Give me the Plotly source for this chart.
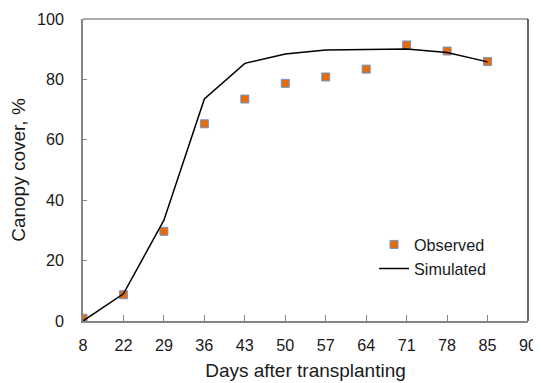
import plotly.graph_objects as go

days = ["8", "22", "29", "36", "43", "50", "57", "64", "71", "78", "85", "90"]
obs_days = ["8", "22", "29", "36", "43", "50", "57", "64", "71", "78", "85"]
observed = [0.9, 8.7, 29.7, 65.3, 73.5, 78.7, 80.8, 83.4, 91.4, 89.4, 85.9]
simulated = [0.0, 9.0, 33.4, 73.5, 85.3, 88.4, 89.7, 90.0, 90.1, 88.9, 85.8]
y_ticks = [0, 20, 40, 60, 80, 100]

FONT = "Liberation Sans, Arial, sans-serif"
fs = 16.2

fig = go.Figure()
fig.add_trace(go.Scatter(
    x=obs_days, y=observed, mode="markers", name="Observed",
    marker=dict(symbol="square", size=8, color="#E46C0A",
                line=dict(color="#7096CF", width=1)),
))
fig.add_trace(go.Scatter(
    x=obs_days, y=simulated, mode="lines", name="Simulated",
    line=dict(color="black", width=1.5),
))

# page body has an 8px margin, so the figure is shrunk and offset by it
fig.update_layout(
    width=533, height=375,
    margin=dict(l=75, r=13, t=11, b=62),
    paper_bgcolor="white", plot_bgcolor="white",
    font=dict(family=FONT, size=fs, color="#1a1a1a"),
    showlegend=True,
    legend=dict(x=0.654, y=0.31, xanchor="left", yanchor="top",
                bgcolor="rgba(0,0,0,0)", font=dict(size=fs),
                traceorder="normal"),
    xaxis=dict(
        type="category", categoryorder="array", categoryarray=days,
        range=[0, len(days) - 1], automargin=False,
        showline=True, linecolor="#868686", linewidth=1.5,
        ticks="inside", ticklen=6, tickcolor="#868686", tickwidth=1,
        showgrid=False, zeroline=False,
        title=dict(text="Days after transplanting", standoff=11),
        ticklabelstandoff=9,
    ),
    yaxis=dict(
        range=[0, 100], tickvals=y_ticks, automargin=False,
        showline=True, linecolor="#868686", linewidth=1.5,
        ticks="inside", ticklen=4, tickcolor="#868686",
        showgrid=False, zeroline=False,
        title=dict(text="Canopy cover, %", standoff=10),
        ticklabelstandoff=14,
    ),
    shapes=[
        dict(type="line", xref="paper", yref="paper", x0=0, x1=1, y0=1, y1=1,
             line=dict(color="#595959", width=1.2)),
        dict(type="line", xref="paper", yref="paper", x0=1, x1=1, y0=0, y1=1,
             line=dict(color="black", width=1.2)),
    ],
)

fig.write_html("out.html")
